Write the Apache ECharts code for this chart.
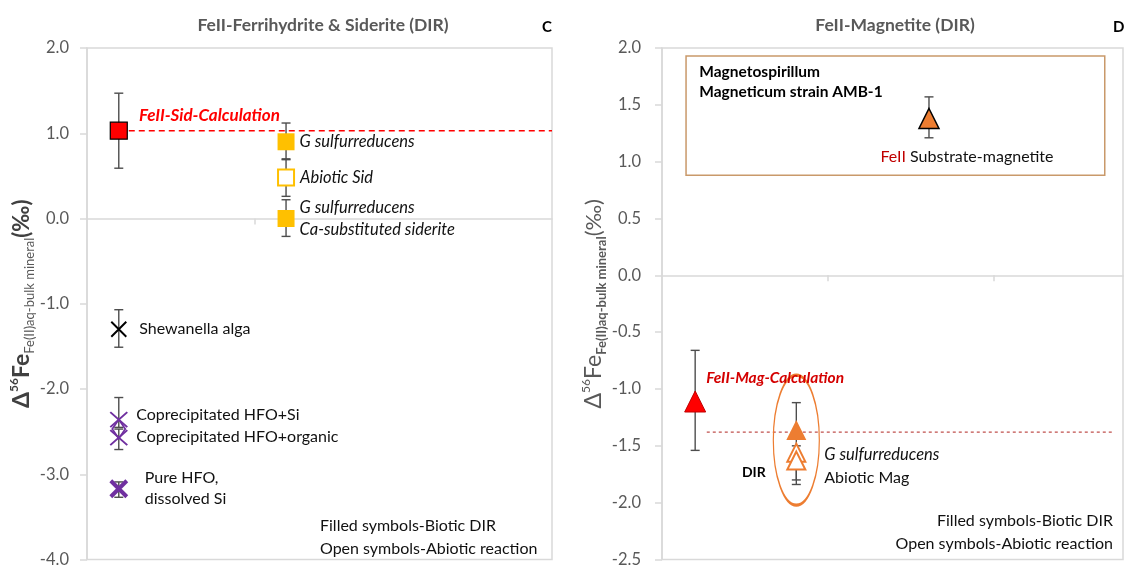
<!DOCTYPE html>
<html><head><meta charset="utf-8">
<script src="https://cdn.jsdelivr.net/npm/echarts@6/dist/echarts.min.js"></script>
<style>html,body{margin:0;background:#fff}#c{width:1125px;height:568px}</style>
</head><body><div id="c"></div>
<script>
// ---------- Panel C : FeII-Ferrihydrite & Siderite ----------
const yRangeC = [-4, 2];
const yStepC = 1;
const calcSid = [[0.19, 1.03]];
const sidBiotic = [[1.19, 0.90], [1.19, 0.00]];
const sidBioticNames = [['G sulfurreducens'], ['G sulfurreducens', 'Ca-substituted siderite']];
const sidAbiotic = [[1.19, 0.48]];
const shewanella = [[0.19, -1.30]];
const hfoCopSi = [[0.19, -2.36]];
const hfoCopOrg = [[0.19, -2.57]];
const hfoDiamond = [[0.19, -2.47]];
const hfoPure = [[0.19, -3.17]];
const errC = [[0.19, 0.59, 1.47], [1.19, 0.69, 1.12], [1.19, 0.26, 0.70], [1.19, -0.21, 0.22],
  [0.19, -1.51, -1.07], [0.19, -2.45, -2.10], [0.19, -2.71, -2.47], [0.19, -3.27, -3.09]];
const sidCalcLine = [[0.19, 1.03], [2.78, 1.03]];

// ---------- Panel D : FeII-Magnetite ----------
const yRangeD = [-2.5, 2];
const yStepD = 0.5;
const calcMag = [[0.20, -1.11]];
const magnetospirillum = [[1.61, 1.38]];
const gsulMag = [[0.81, -1.36]];
const abioticMag = [[0.81, -1.56], [0.81, -1.63]];
const errD = [[0.20, -1.54, -0.66], [1.61, 1.21, 1.57], [0.81, -1.84, -1.12], [0.81, -1.80, -1.50]];
const magCalcLine = [[0.27, -1.38], [2.72, -1.38]];
const dirGroup = [[0.81, -1.45]];
const magBox = [[0.145, 1.93], [2.67, 0.88]];
const xRange = [0, 2.78];

const FONT = 'Lato, "Open Sans", sans-serif';
const TXT = '#111';

function renderErr(params, api) {
  const x = api.value(0), lo = api.value(1), hi = api.value(2);
  const a = api.coord([x, hi]), b = api.coord([x, lo]);
  const w = 4.5;
  const st = { stroke: '#4d4d4d', lineWidth: 1.4 };
  return { type: 'group', children: [
    { type: 'line', shape: { x1: a[0], y1: a[1], x2: b[0], y2: b[1] }, style: st },
    { type: 'line', shape: { x1: a[0] - w, y1: a[1], x2: a[0] + w, y2: a[1] }, style: st },
    { type: 'line', shape: { x1: b[0] - w, y1: b[1], x2: b[0] + w, y2: b[1] }, style: st }
  ]};
}
function errSeries(i, data) {
  return { type: 'custom', xAxisIndex: i, yAxisIndex: i, data, renderItem: renderErr,
    encode: { x: 0, y: [1, 2] }, z: 2, silent: true };
}
function sc(i, data, symbol, size, itemStyle, label, z) {
  return { type: 'scatter', xAxisIndex: i, yAxisIndex: i, data, symbol, symbolSize: size,
    itemStyle: Object.assign({ opacity: 1 }, itemStyle), label: label || { show: false }, z: z || 5, silent: true };
}
function lbl(extra) {
  return Object.assign({ show: true, position: 'right', color: TXT, fontSize: 16, fontFamily: FONT }, extra);
}
const XPATH = 'path://M0,0L10,10M0,10L10,0';

function xAxisCfg(i, ticks) {
  return { gridIndex: i, type: 'value', min: xRange[0], max: xRange[1], interval: 1,
    axisLine: { onZero: true, lineStyle: { color: '#d9d9d9', width: 1.5 } },
    axisTick: { show: true, length: 6, customValues: ticks, lineStyle: { color: '#d9d9d9', width: 1.5 } },
    axisLabel: { show: false }, splitLine: { show: false } };
}
function yAxisCfg(i, range, step, gap, margin, name, rich) {
  return { gridIndex: i, type: 'value', min: range[0], max: range[1], interval: step,
    axisLine: { show: true, lineStyle: { color: '#d9d9d9', width: 1.5 } },
    axisTick: { show: true, length: 7, lineStyle: { color: '#d9d9d9', width: 1.5 } },
    axisLabel: { color: '#595959', fontSize: 16.5, fontFamily: FONT, margin, formatter: v => v.toFixed(1) },
    splitLine: { show: false },
    name, nameLocation: 'middle', nameRotate: 90, nameGap: gap,
    nameTextStyle: { rich } };
}
const richC = {
  a: { fontSize: 23, fontWeight: 'bold', color: '#404040', fontFamily: FONT, lineHeight: 28 },
  b: { fontSize: 12, fontWeight: 'bold', color: '#404040', fontFamily: FONT, verticalAlign: 'top' },
  c: { fontSize: 13, color: '#595959', fontFamily: FONT, verticalAlign: 'bottom' },
  d: { fontSize: 22, fontWeight: 'bold', color: '#404040', fontFamily: FONT }
};
const richD = {
  a: { fontSize: 23, color: '#595959', fontFamily: FONT, lineHeight: 28 },
  b: { fontSize: 12, color: '#595959', fontFamily: FONT, verticalAlign: 'top' },
  c: { fontSize: 13, fontWeight: 'bold', color: '#595959', fontFamily: FONT, verticalAlign: 'bottom' },
  d: { fontSize: 22, color: '#595959', fontFamily: FONT }
};
const yName = '{a|Δ}{b|56}{a|Fe}{c|Fe(II)aq-bulk mineral}{d|(‰)}';

const option = {
  backgroundColor: '#fff',
  animation: false,
  title: [
    { text: 'FeII-Ferrihydrite & Siderite (DIR)', left: 318, top: 11, textAlign: 'center',
      textStyle: { fontSize: 17.5, fontWeight: 'bold', color: '#595959', fontFamily: FONT } },
    { text: 'C', left: 537, top: 15, textStyle: { fontSize: 15, fontWeight: 'bold', color: '#000', fontFamily: FONT } },
    { text: 'FeII-Magnetite (DIR)', left: 890, top: 11, textAlign: 'center',
      textStyle: { fontSize: 17.5, fontWeight: 'bold', color: '#595959', fontFamily: FONT } },
    { text: 'D', left: 1108, top: 15, textStyle: { fontSize: 15, fontWeight: 'bold', color: '#000', fontFamily: FONT } }
  ],
  grid: [
    { left: 87, top: 48, width: 465, height: 513, show: true, borderColor: '#d9d9d9', borderWidth: 1.5, backgroundColor: 'transparent' },
    { left: 662, top: 48, width: 461, height: 512, show: true, borderColor: '#d9d9d9', borderWidth: 1.5, backgroundColor: 'transparent' }
  ],
  xAxis: [xAxisCfg(0, [1]), xAxisCfg(1, [1, 2])],
  yAxis: [yAxisCfg(0, yRangeC, yStepC, 36, 18, yName, richC), yAxisCfg(1, yRangeD, yStepD, 46, 21, yName, richD)],
  graphic: [
    { type: 'text', left: 320, top: 514, style: { text: 'Filled symbols-Biotic DIR\nOpen symbols-Abiotic reaction',
      fontSize: 16, fontFamily: FONT, fill: TXT, lineHeight: 23 } },
    { type: 'text', right: 12, top: 513, style: { text: 'Filled symbols-Biotic DIR', fontSize: 16, fontFamily: FONT, fill: TXT } },
    { type: 'text', right: 12, top: 536, style: { text: 'Open symbols-Abiotic reaction', fontSize: 16, fontFamily: FONT, fill: TXT } }
  ],
  series: [
    // ----- panel C -----
    { type: 'line', xAxisIndex: 0, yAxisIndex: 0, data: sidCalcLine, symbol: 'none', silent: true, z: 1,
      lineStyle: { color: '#ff0000', width: 1.5, type: [6, 4] } },
    errSeries(0, errC),
    sc(0, calcSid, 'rect', 17, { color: '#ff0000', borderColor: '#000', borderWidth: 1.2 },
      lbl({ formatter: 'FeII-Sid-Calculation', color: '#ff0000', fontWeight: 'bold', fontStyle: 'italic', fontSize: 17, distance: 11, offset: [0, -15] })),
    { type: 'scatter', xAxisIndex: 0, yAxisIndex: 0, symbol: 'rect', symbolSize: 17, silent: true, z: 5,
      itemStyle: { color: '#ffc000', opacity: 1 },
      data: sidBiotic.map((v, k) => ({ value: v, label: lbl({ formatter: sidBioticNames[k].join('\n'), fontStyle: 'italic', fontSize: 16.5, distance: 5, lineHeight: 22 }) })) },
    sc(0, sidAbiotic, 'rect', 16, { color: '#fff', borderColor: '#ffc000', borderWidth: 2 },
      lbl({ formatter: 'Abiotic Sid', fontStyle: 'italic', fontSize: 16.5, distance: 5 })),
    sc(0, shewanella, XPATH, 15, { color: 'transparent', borderColor: '#000', borderWidth: 2 },
      lbl({ formatter: 'Shewanella alga', distance: 12 })),
    sc(0, hfoDiamond, 'diamond', [13, 19], { color: 'transparent', borderColor: '#7030a0', borderWidth: 1.8 }),
    sc(0, hfoCopSi, XPATH, [17, 15], { color: 'transparent', borderColor: '#7030a0', borderWidth: 1.8 },
      lbl({ formatter: 'Coprecipitated HFO+Si', distance: 8, offset: [0, -5] })),
    sc(0, hfoCopOrg, XPATH, [17, 15], { color: 'transparent', borderColor: '#7030a0', borderWidth: 1.8 },
      lbl({ formatter: 'Coprecipitated HFO+organic', distance: 8, offset: [0, -1] })),
    sc(0, hfoPure, XPATH, 16, { color: 'transparent', borderColor: '#7030a0', borderWidth: 4 },
      lbl({ formatter: 'Pure HFO,\ndissolved Si', distance: 16, lineHeight: 21 })),
    // ----- panel D -----
    { type: 'line', xAxisIndex: 1, yAxisIndex: 1, data: magCalcLine, symbol: 'none', silent: true, z: 1,
      lineStyle: { color: '#c0504d', width: 1.2, type: [3, 3] } },
    errSeries(1, errD),
    sc(1, magnetospirillum, 'triangle', 20, { color: '#ed7d31', borderColor: '#000', borderWidth: 1.5 },
      lbl({ position: 'bottom', formatter: '{r|FeII} Substrate-magnetite', distance: 20, offset: [38, 0],
        rich: { r: { color: '#c00000', fontSize: 16, fontFamily: FONT } } })),
    Object.assign(sc(1, [], 'none', 0, {}), {
      markArea: { silent: true, itemStyle: { color: 'transparent', borderColor: '#c9996a', borderWidth: 1.5 },
        label: { show: true, position: 'insideTopLeft', distance: 7, offset: [7, 0], color: '#000', fontSize: 15.5, fontWeight: 'bold',
          fontFamily: FONT, lineHeight: 20 },
        data: [[{ xAxis: magBox[0][0], yAxis: magBox[0][1], name: 'Magnetospirillum\nMagneticum strain AMB-1' },
                { xAxis: magBox[1][0], yAxis: magBox[1][1] }]] } }),
    sc(1, dirGroup, 'circle', [46, 130], { color: 'transparent', borderColor: '#ed7d31', borderWidth: 2 },
      lbl({ position: 'left', formatter: 'DIR', fontWeight: 'bold', fontSize: 14, color: '#000', distance: 7, offset: [0, 32] }), 3),
    sc(1, calcMag, 'triangle', 21, { color: '#ff0000', borderColor: '#c00000', borderWidth: 1 },
      lbl({ formatter: 'FeII-Mag-Calculation', color: '#d40000', fontWeight: 'bold', fontStyle: 'italic', fontSize: 15.5, distance: 0, offset: [0, -24] })),
    sc(1, gsulMag, 'triangle', 20, { color: '#ed7d31' }),
    { type: 'scatter', xAxisIndex: 1, yAxisIndex: 1, symbol: 'triangle', symbolSize: 18, silent: true, z: 5,
      itemStyle: { color: '#fff', borderColor: '#ed7d31', borderWidth: 2, opacity: 1 },
      data: abioticMag.map((v, k) => k === 0
        ? { value: v, label: lbl({ formatter: '{i|G sulfurreducens}\nAbiotic Mag', distance: 18, offset: [0, 14], lineHeight: 23,
            rich: { i: { fontStyle: 'italic', fontSize: 16.5, fontFamily: FONT, color: TXT } } }) }
        : { value: v }) }
  ]
};
echarts.init(document.getElementById('c')).setOption(option);
</script></body></html>
